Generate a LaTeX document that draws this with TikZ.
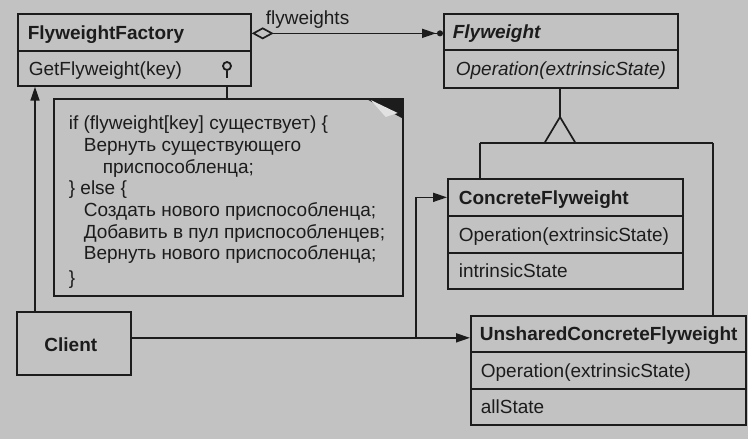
\documentclass[tikz,border=0pt]{standalone}
\usepackage{fontspec}
\setmainfont{Liberation Sans}
\usetikzlibrary{arrows.meta}
\definecolor{paper}{RGB}{194,194,194}
\definecolor{ink}{RGB}{28,28,28}
\definecolor{fold}{RGB}{225,225,225}
\tikzset{
  box/.style={draw=ink, anchor=north west, inner sep=0pt},
  txt/.style={anchor=west, inner sep=0pt, text depth=0pt, text height=13.6pt, text=ink, font=\fontsize{19}{22}\selectfont},
  btxt/.style={txt, font=\fontsize{19}{22}\selectfont\bfseries},
  notetext/.style={anchor=north west, inner sep=0pt, align=left, text=ink, font=\fontsize{19}{21.7}\selectfont},
  arr/.style={-{Triangle[length=14pt,width=9pt]}},
}
\begin{document}
\begin{tikzpicture}[x=1pt,y=-1pt,line width=1.7pt,draw=ink]
\fill[paper] (0,0) rectangle (748,439);
\useasboundingbox (0,0) rectangle (748,439);

% FlyweightFactory
\node[box, minimum width=233pt, minimum height=37pt] (ffh) at (17,13) {};
\node[box, minimum width=233pt, minimum height=35pt] (ffm) at (17,50) {};
\node[btxt] (ffht) at ([xshift=10pt]ffh.west) {FlyweightFactory};
\node[txt] (ffmt) at ([xshift=11pt]ffm.west) {GetFlyweight(key)};
\node[circle, draw=ink, line width=1.8pt, minimum size=8pt, inner sep=0pt] (key) at (227,66) {};
\draw[line width=1.8pt] (key.south) -- ++(0,7);

% Flyweight
\node[box, minimum width=234pt, minimum height=36pt] (fwh) at (443,13) {};
\node[box, minimum width=234pt, minimum height=38pt] (fwm) at (443,49) {};
\node[btxt, font=\fontsize{19}{22}\selectfont\bfseries\itshape] (fwht) at ([xshift=9pt]fwh.west) {Flyweight};
\node[txt, font=\fontsize{19}{22}\selectfont\itshape] (fwmt) at ([xshift=12pt]fwm.west) {Operation(extrinsicState)};

% ConcreteFlyweight
\node[box, minimum width=235pt, minimum height=37pt] (cfh) at (447,178) {};
\node[box, minimum width=235pt, minimum height=37pt] (cfm) at (447,215) {};
\node[box, minimum width=235pt, minimum height=36pt] (cfa) at (447,252) {};
\node[btxt] (cfht) at ([xshift=11pt]cfh.west) {ConcreteFlyweight};
\node[txt] (cfmt) at ([xshift=11pt]cfm.west) {Operation(extrinsicState)};
\node[txt] (cfat) at ([xshift=11pt]cfa.west) {intrinsicState};

% UnsharedConcreteFlyweight
\node[box, minimum width=275pt, minimum height=36pt] (uh) at (470,315) {};
\node[box, minimum width=275pt, minimum height=37pt] (um) at (470,351) {};
\node[box, minimum width=275pt, minimum height=36pt] (ua) at (470,388) {};
\node[btxt] (uht) at ([xshift=9pt]uh.west) {UnsharedConcreteFlyweight};
\node[txt] (umt) at ([xshift=10pt]um.west) {Operation(extrinsicState)};
\node[txt] (uat) at ([xshift=10pt]ua.west) {allState};

% Client
\node[box, minimum width=114pt, minimum height=63pt] (cl) at (16,311) {};
\node[btxt, anchor=center] (clt) at ([xshift=-3pt,yshift=-1pt]cl.center) {Client};

% Note
\node[box, minimum width=349pt, minimum height=197pt] (nt) at (53,98) {};
\fill[ink] (nt.north east) ++(-39,0) -- (nt.north east) -- ++(0,21) -- cycle;
\fill[fold] (nt.north east) ++(-33,2) -- ++(27,13) -- ++(-12,4) -- cycle;
\node[notetext] (ntx) at (68,115) {if (flyweight[key] существует) \{\\
\hspace*{15pt}Вернуть существующего\\
\hspace*{34pt}приспособленца;\\
\} else \{\\
\hspace*{15pt}Создать нового приспособленца;\\
\hspace*{15pt}Добавить в пул приспособленцев;\\
\hspace*{15pt}Вернуть нового приспособленца;\\[3pt]
\}};
\draw (key |- ffm.south) -- (key |- nt.north);

% aggregation flyweights
\draw[{Diamond[open,length=22pt,width=12pt]}-{Triangle[length=14pt,width=9pt,sep=1pt]Circle[length=6pt]}]
  ([yshift=-1pt]ffh.east) -- ([yshift=-1pt]ffh.east -| fwh.west);
\node[txt] (lbl) at (265,18) {flyweights};

% inheritance
\coordinate (apex) at (560,117);
\coordinate (tl) at (480,143);
\coordinate (tr) at (713,143);
\draw (apex |- fwm.south) -- (apex);
\draw[line join=miter] (apex) -- ++(-15.5,26) -- ++(31,0) -- cycle;
\draw (tl) -- (tr);
\draw (tl) -- (tl |- cfh.north);
\draw (tr) -- (tr |- uh.north);

% client associations
\draw[arr] ([xshift=19pt]cl.north west) -- ([xshift=19pt]cl.north west |- ffm.south);
\coordinate (cr) at ([yshift=5.5pt]cl.east);
\coordinate (br) at (416,337);
\draw[arr] (cr) -- (cr -| uh.west);
\draw[arr] (br) |- (cfh.west);
\end{tikzpicture}
\end{document}
